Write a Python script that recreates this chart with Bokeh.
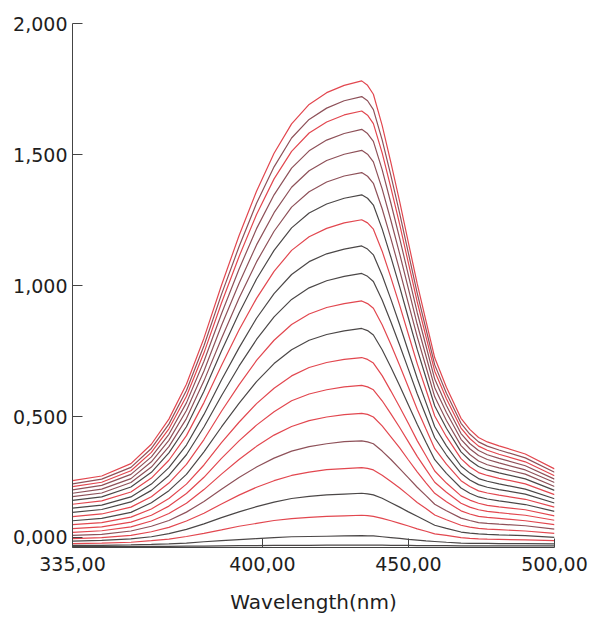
from bokeh.plotting import figure
from bokeh.models import FixedTicker, Range1d
from bokeh.embed import file_html
from bokeh.resources import INLINE

wavelength = [335, 345, 355, 362, 368, 374, 380, 386, 392, 398, 404, 410, 416, 422, 428,
              434, 436, 438, 441, 444, 447, 450, 453, 456, 459, 463, 468, 471, 474, 477, 481, 490, 500]

curve_01 = [.255, .273, .320, .394, .490, .623, .799, 1.001, 1.190, 1.360, 1.505, 1.617, 1.691, 1.736, 1.764,
            1.781, 1.764, 1.730, 1.611, 1.469, 1.320, 1.163, 1.007, .865, .724, .612, .493, .451, .420, .403, .388, .357, .300]
curve_02 = [.243, .261, .306, .378, .471, .599, .770, .966, 1.148, 1.314, 1.453, 1.563, 1.634, 1.677, 1.705,
            1.721, 1.705, 1.671, 1.556, 1.419, 1.275, 1.123, .971, .834, .697, .589, .474, .433, .403, .387, .372, .342, .287]
curve_03 = [.232, .249, .293, .363, .453, .577, .743, .933, 1.110, 1.271, 1.407, 1.512, 1.582, 1.624, 1.651,
            1.666, 1.650, 1.618, 1.506, 1.373, 1.233, 1.085, .938, .805, .673, .568, .456, .416, .387, .371, .356, .327, .274]
curve_04 = [.220, .237, .279, .346, .432, .552, .711, .892, 1.062, 1.217, 1.346, 1.448, 1.514, 1.555, 1.580,
            1.596, 1.580, 1.550, 1.442, 1.314, 1.180, 1.039, .897, .770, .643, .542, .435, .397, .370, .354, .340, .312, .261]
curve_05 = [.207, .223, .263, .327, .409, .523, .674, .847, 1.008, 1.155, 1.278, 1.375, 1.438, 1.477, 1.501,
            1.516, 1.501, 1.472, 1.369, 1.248, 1.121, .987, .852, .731, .610, .515, .413, .377, .351, .336, .323, .296, .248]
curve_06 = [.194, .208, .248, .307, .385, .492, .636, .798, .951, 1.090, 1.207, 1.299, 1.358, 1.395, 1.418,
            1.431, 1.417, 1.390, 1.293, 1.179, 1.058, .931, .805, .690, .575, .485, .389, .355, .330, .316, .304, .280, .233]
curve_07 = [.180, .193, .231, .287, .361, .461, .596, .750, .894, 1.025, 1.134, 1.220, 1.277, 1.311, 1.333,
            1.346, 1.333, 1.307, 1.216, 1.108, .995, .875, .756, .648, .540, .455, .365, .333, .309, .296, .285, .262, .218]
curve_08 = [.165, .178, .212, .265, .333, .427, .553, .695, .830, .951, 1.054, 1.134, 1.186, 1.218, 1.239,
            1.251, 1.239, 1.215, 1.131, 1.030, .924, .813, .702, .602, .502, .423, .339, .308, .286, .275, .264, .243, .202]
curve_09 = [.150, .162, .193, .242, .305, .391, .508, .639, .762, .875, .969, 1.042, 1.091, 1.121, 1.139,
            1.151, 1.139, 1.117, 1.039, .947, .850, .748, .646, .553, .461, .388, .311, .284, .263, .253, .243, .223, .186]
curve_10 = [.134, .145, .174, .218, .275, .354, .460, .579, .692, .794, .880, .947, .991, 1.018, 1.035,
            1.046, 1.035, 1.015, .945, .861, .772, .680, .587, .503, .419, .353, .283, .258, .240, .230, .221, .204, .170]
curve_11 = [.118, .128, .154, .194, .246, .317, .412, .520, .621, .714, .791, .851, .891, .916, .931,
            .941, .931, .913, .850, .775, .695, .612, .528, .452, .377, .318, .255, .233, .216, .208, .200, .184, .154]
curve_12 = [.102, .111, .134, .171, .217, .279, .365, .460, .550, .633, .702, .755, .791, .813, .827,
            .836, .828, .811, .755, .688, .617, .544, .470, .402, .335, .283, .227, .207, .193, .185, .178, .164, .138]
curve_13 = [.087, .095, .116, .147, .187, .242, .315, .400, .478, .549, .608, .655, .687, .706, .718,
            .725, .718, .704, .656, .597, .536, .473, .408, .350, .292, .246, .197, .181, .169, .161, .155, .144, .121]
curve_14 = [.072, .079, .097, .123, .158, .206, .268, .340, .407, .467, .518, .560, .586, .602, .613,
            .619, .613, .602, .560, .510, .458, .403, .348, .298, .249, .211, .169, .154, .144, .138, .133, .123, .104]
curve_15 = [.058, .064, .079, .101, .130, .169, .221, .280, .336, .386, .429, .462, .484, .498, .507,
            .512, .508, .498, .464, .422, .380, .334, .289, .247, .207, .175, .140, .128, .119, .115, .111, .102, .087]
curve_16 = [.046, .050, .063, .081, .103, .135, .176, .222, .267, .307, .341, .368, .385, .396, .404,
            .407, .403, .396, .368, .336, .301, .266, .230, .198, .165, .140, .112, .103, .095, .092, .089, .083, .070]
curve_17 = [.034, .038, .046, .060, .077, .101, .131, .166, .200, .230, .255, .275, .288, .297, .301,
            .305, .302, .296, .276, .252, .227, .200, .172, .149, .124, .106, .085, .078, .073, .070, .068, .063, .054]
curve_18 = [.024, .027, .033, .041, .053, .069, .090, .114, .136, .156, .173, .187, .195, .201, .204,
            .207, .205, .201, .188, .171, .154, .136, .119, .102, .085, .073, .059, .055, .052, .050, .048, .045, .039]
curve_19 = [.015, .017, .020, .026, .032, .042, .054, .067, .081, .092, .103, .110, .115, .119, .121,
            .123, .122, .119, .111, .102, .092, .082, .071, .062, .052, .046, .038, .035, .033, .032, .031, .029, .026]
curve_20 = [.008, .008, .010, .012, .014, .017, .022, .026, .030, .034, .038, .041, .042, .043, .044,
            .045, .044, .044, .041, .038, .035, .031, .028, .025, .023, .020, .017, .016, .016, .016, .015, .015, .014]
curve_21 = [.003, .003, .003, .004, .004, .005, .005, .006, .007, .007, .008, .008, .008, .009, .009,
            .009, .009, .009, .009, .008, .008, .008, .007, .007, .007, .007, .006, .006, .006, .006, .006, .006, .006]

curves = [curve_01, curve_02, curve_03, curve_04, curve_05, curve_06, curve_07,
          curve_08, curve_09, curve_10, curve_11, curve_12, curve_13, curve_14,
          curve_15, curve_16, curve_17, curve_18, curve_19, curve_20, curve_21]

RED = "#e2474f"
MIX = "#8e5159"
DARK = "#4b4747"
curve_colors = [RED, MIX, RED, MIX, MIX, MIX, DARK, RED, DARK, DARK, RED,
                DARK, RED, RED, RED, MIX, RED, DARK, RED, DARK, DARK]

x_ticks = [335, 400, 450, 500]
x_tick_labels = ["335,00", "400,00", "450,00", "500,00"]
y_ticks = [0.04, 0.5, 1.0, 1.5, 2.0]
y_tick_labels = ["0,000", "0,500", "1,000", "1,500", "2,000"]

FONT = "DejaVu Sans"
TXT = "#1e1e1e"
AXC = "#444444"

p = figure(width=592, height=618, output_backend="svg", toolbar_location=None,
           x_range=Range1d(335, 500), y_range=Range1d(0, 2.0),
           min_border_left=72, min_border_right=38, min_border_top=23,
           min_border_bottom=71)
p.grid.visible = False
p.outline_line_color = None
p.background_fill_color = "white"
p.border_fill_color = "white"

for ys, c in zip(curves, curve_colors):
    p.line(wavelength, ys, line_color=c, line_width=1.2)

xa = p.xaxis[0]
xa.ticker = FixedTicker(ticks=x_ticks)
xa.major_label_overrides = {t: s for t, s in zip(x_ticks, x_tick_labels)}
xa.minor_tick_line_color = None
xa.major_tick_in = 9
xa.major_tick_out = 0
xa.major_label_standoff = 9
xa.axis_label = "Wavelength(nm)"
xa.axis_label_standoff = 16
xa.axis_label_text_font_style = "normal"
xa.axis_label_text_font_size = "20px"
xa.axis_label_text_font = FONT
xa.axis_label_text_color = TXT
xa.major_label_text_font = FONT
xa.major_label_text_font_size = "19px"
xa.major_label_text_color = TXT
xa.axis_line_color = AXC
xa.major_tick_line_color = AXC

ya = p.yaxis[0]
ya.ticker = FixedTicker(ticks=y_ticks)
ya.major_label_overrides = {t: s for t, s in zip(y_ticks, y_tick_labels)}
ya.minor_tick_line_color = None
ya.major_tick_in = 10
ya.major_tick_out = 0
ya.major_label_standoff = 5
ya.major_label_text_font = FONT
ya.major_label_text_font_size = "19px"
ya.major_label_text_color = TXT
ya.axis_line_color = AXC
ya.major_tick_line_color = AXC

open("out.html", "w").write(file_html(p, INLINE))
